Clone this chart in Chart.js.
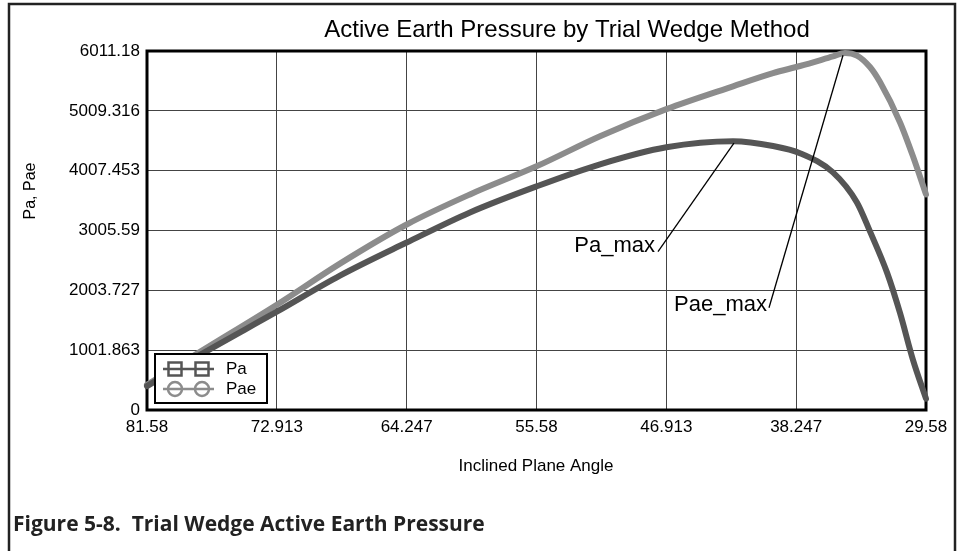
<!DOCTYPE html>
<html>
<head>
<meta charset="utf-8">
<script src="https://cdn.jsdelivr.net/npm/chart.js@4/dist/chart.umd.min.js"></script>
<style>
  html, body { margin: 0; padding: 0; background: #fff; }
  #wrap { width: 962px; height: 551px; }
</style>
</head>
<body>
<div id="wrap"><canvas id="wedgeChart" width="962" height="551"></canvas></div>
<script>
// Inclined plane angle (deg) and pressures
const paAngles = [81.58, 78.04, 72.913, 68.70, 64.247, 60.02, 55.58, 51.34, 46.913, 42.46,
  39.79, 37.99, 35.79, 34.19, 33.32, 32.18, 31.32, 30.45, 29.58];
const paValues = [400, 924, 1646, 2250, 2804, 3308, 3744, 4114, 4399, 4500,
  4420, 4300, 3979, 3475, 2990, 2300, 1629, 840, 190];

const paeAngles = [81.58, 78.04, 72.913, 68.70, 64.247, 60.02, 55.58, 51.34, 46.913, 42.46,
  39.79, 37.99, 35.79, 34.99, 34.19, 33.32, 32.65, 31.32, 30.45, 29.58];
const paeValues = [420, 974, 1763, 2451, 3106, 3610, 4080, 4584, 5037, 5420,
  5640, 5760, 5920, 5978, 5935, 5743, 5491, 4819, 4248, 3610];

const xTickValues = [81.58, 72.913, 64.247, 55.58, 46.913, 38.247, 29.58];
const xTickLabels = ["81.58", "72.913", "64.247", "55.58", "46.913", "38.247", "29.58"];
const yTickValues = [0, 1001.863, 2003.727, 3005.59, 4007.453, 5009.316, 6011.18];
const yTickLabels = ["0", "1001.863", "2003.727", "3005.59", "4007.453", "5009.316", "6011.18"];

const seriesNames = ["Pa", "Pae"];
const FONT = "'Liberation Sans', Arial, sans-serif";

function toPoints(xs, ys) {
  return xs.map((x, i) => ({ x: x, y: ys[i] }));
}

// Frame, plot border, legend, labels and leader lines
const decorPlugin = {
  id: "decor",
  beforeDatasetsDraw(chart) {
    const { ctx, chartArea: a } = chart;
    ctx.save();
    ctx.strokeStyle = "#000";
    ctx.lineWidth = 3;
    ctx.strokeRect(a.left, a.top, a.right - a.left, a.bottom - a.top);
    ctx.restore();
  },
  afterDraw(chart, args, opts) {
    const { ctx } = chart;
    const xs = chart.scales.x, ys = chart.scales.y;
    ctx.save();

    // outer figure frame
    ctx.strokeStyle = "#222";
    ctx.lineWidth = 2.5;
    ctx.strokeRect(9, 4, 946, 620);

    // title
    ctx.fillStyle = "#000";
    ctx.textAlign = "center";
    ctx.textBaseline = "middle";
    ctx.font = "24px " + FONT;
    ctx.fillText("Active Earth Pressure by Trial Wedge Method", 567, 30);

    // axis titles
    ctx.font = "17px " + FONT;
    ctx.fillText("Inclined Plane Angle", 536, 466);
    ctx.save();
    ctx.translate(31, 191);
    ctx.rotate(-Math.PI / 2);
    ctx.font = "16px " + FONT;
    ctx.fillText("Pa, Pae", 0, 0);
    ctx.restore();

    // caption
    ctx.textAlign = "left";
    ctx.font = "bold 21px 'Open Sans', 'DejaVu Sans', sans-serif";
    ctx.fillStyle = "#222";
    ctx.fillText("Figure 5-8.  Trial Wedge Active Earth Pressure", 13, 525);

    // leader lines + labels
    ctx.fillStyle = "#000";
    ctx.strokeStyle = "#000";
    ctx.lineWidth = 1.3;
    ctx.font = "22px " + FONT;
    ctx.textAlign = "right";
    opts.notes.forEach((n) => {
      ctx.beginPath();
      ctx.moveTo(xs.getPixelForValue(n.from[0]), ys.getPixelForValue(n.from[1]));
      ctx.lineTo(xs.getPixelForValue(n.to[0]), ys.getPixelForValue(n.to[1]));
      ctx.stroke();
      ctx.fillText(n.text, xs.getPixelForValue(n.at[0]), ys.getPixelForValue(n.at[1]));
    });

    // legend
    const lx = 155, ly = 354, lw = 112, lh = 49;
    ctx.fillStyle = "#fff";
    ctx.fillRect(lx, ly, lw, lh);
    ctx.strokeStyle = "#000";
    ctx.lineWidth = 2;
    ctx.strokeRect(lx, ly, lw, lh);
    const colors = chart.data.datasets.map((d) => d.borderColor);
    [369, 389].forEach((yy, i) => {
      ctx.strokeStyle = colors[i];
      ctx.lineWidth = 2.5;
      ctx.beginPath();
      ctx.moveTo(163, yy);
      ctx.lineTo(214, yy);
      ctx.stroke();
      [175, 202].forEach((cx) => {
        ctx.beginPath();
        if (i === 0) ctx.rect(cx - 6.5, yy - 6.5, 13, 13);
        else ctx.arc(cx, yy, 7, 0, Math.PI * 2);
        ctx.stroke();
      });
      ctx.fillStyle = "#000";
      ctx.textAlign = "left";
      ctx.font = "17px " + FONT;
      ctx.fillText(seriesNames[i], 226, yy);
    });
    ctx.restore();
  }
};

const config = {
  type: "line",
  data: {
    datasets: [
      {
        label: seriesNames[0],
        data: toPoints(paAngles, paValues),
        borderColor: "#555555",
        borderWidth: 6,
        pointRadius: 0,
        cubicInterpolationMode: "monotone",
        borderCapStyle: "round",
        clip: false
      },
      {
        label: seriesNames[1],
        data: toPoints(paeAngles, paeValues),
        borderColor: "#8c8c8c",
        borderWidth: 6,
        pointRadius: 0,
        cubicInterpolationMode: "monotone",
        borderCapStyle: "round",
        clip: false
      }
    ]
  },
  options: {
    responsive: false,
    animation: false,
    devicePixelRatio: 1,
    layout: { padding: { left: 0, right: 36, top: 51, bottom: 0 } },
    scales: {
      x: {
        type: "linear",
        reverse: true,
        min: 29.58,
        max: 81.58,
        afterBuildTicks: (s) => { s.ticks = xTickValues.map((v) => ({ value: v })); },
        afterFit: (s) => { s.height = 141; },
        grid: { color: "#444", lineWidth: 1, drawTicks: false },
        border: { display: false },
        ticks: {
          padding: 7,
          color: "#000",
          font: { family: FONT, size: 17 },
          maxRotation: 0,
          callback: (v, i) => xTickLabels[i]
        }
      },
      y: {
        min: 0,
        max: 6011.18,
        afterBuildTicks: (s) => { s.ticks = yTickValues.map((v) => ({ value: v })); },
        afterFit: (s) => { s.width = 147; },
        grid: { color: "#444", lineWidth: 1, drawTicks: false },
        border: { display: false },
        ticks: {
          padding: 7,
          color: "#000",
          font: { family: FONT, size: 17 },
          callback: (v, i) => yTickLabels[i]
        }
      }
    },
    plugins: {
      legend: { display: false },
      title: { display: false },
      tooltip: { enabled: false },
      decor: {
        notes: [
          { text: "Pa_max", at: [47.67, 2754], from: [47.47, 2653], to: [42.40, 4470] },
          { text: "Pae_max", at: [40.19, 1763], from: [40.06, 1713], to: [35.12, 5940] }
        ]
      }
    }
  },
  plugins: [decorPlugin]
};

document.addEventListener("DOMContentLoaded", () => {
  const ctx = document.getElementById("wedgeChart").getContext("2d");
  window.wedgeChartInstance = new Chart(ctx, config);
});
</script>
</body>
</html>
